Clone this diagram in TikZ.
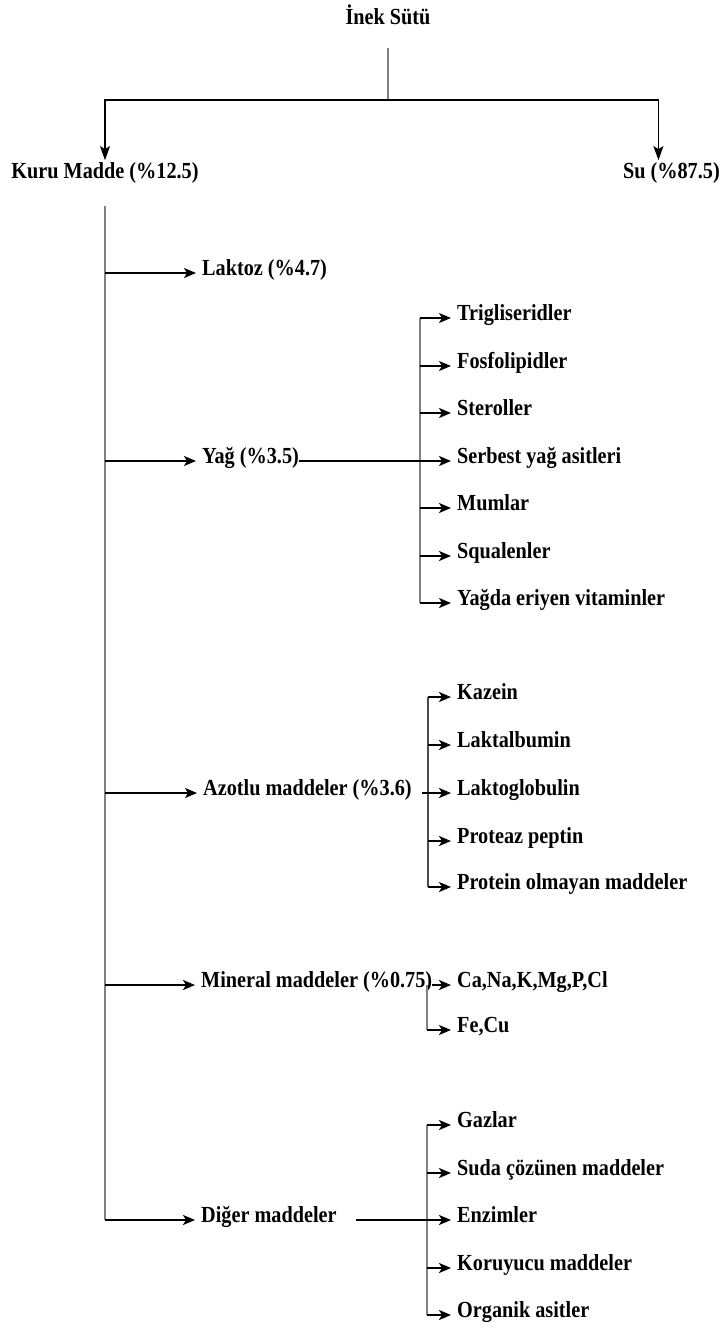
\documentclass[tikz,border=0pt]{standalone}
\usepackage{fontspec}
\setmainfont{Liberation Serif}[FakeStretch=0.88]
\usetikzlibrary{arrows.meta}
\begin{document}
\begin{tikzpicture}[x=1pt,y=-1pt,
  lbl/.style={anchor=west, inner sep=0pt, text height=1.3ex, text depth=0.3ex,
    font=\fontsize{23}{26}\selectfont\bfseries},
  hl/.style={line width=1.6pt, black},
  vl/.style={line width=2pt, black!50},
  arr/.style={hl, -{Stealth[length=12pt,width=10pt,inset=3pt]}, shorten >=6pt},
  darr/.style={hl, -{Stealth[length=14pt,width=10pt,inset=3pt]}, shorten >=12pt},
]
\useasboundingbox (0,0) rectangle (721,1333);

% top level
\node[lbl, anchor=center] (inek) at (388,22) {İnek Sütü};
\node[lbl, anchor=center] (kuru) at (105,176) {Kuru Madde (\%12.5)};
\node[lbl, anchor=east] (su) at (720,176) {Su (\%87.5)};
\coordinate (hs) at (388,100);

% level 2
\node[lbl] (laktoz) at (202,273) {Laktoz (\%4.7)};
\node[lbl] (yag) at (202,461) {Yağ (\%3.5)};
\node[lbl] (azot) at (203,793) {Azotlu maddeler (\%3.6)};
\node[lbl] (min) at (201,985) {Mineral maddeler (\%0.75)};
\node[lbl] (diger) at (201,1220) {Diğer maddeler};

% sub-branch columns
\coordinate (yv) at (420,0);
\coordinate (av) at (428,0);
\coordinate (mv) at (427,0);
\coordinate (dv) at (427,0);

% fat
\node[lbl] (trig) at (457,318) {Trigliseridler};
\node[lbl] (fosf) at (457,366) {Fosfolipidler};
\node[lbl] (ster) at (457,413) {Steroller};
\node[lbl] (serb) at (457,461) {Serbest yağ asitleri};
\node[lbl] (mum) at (457,508) {Mumlar};
\node[lbl] (squa) at (457,556) {Squalenler};
\node[lbl] (yagda) at (457,603) {Yağda eriyen vitaminler};

% nitrogen
\node[lbl] (kaz) at (457,697) {Kazein};
\node[lbl] (lalb) at (457,745) {Laktalbumin};
\node[lbl] (lglob) at (457,793) {Laktoglobulin};
\node[lbl] (prot) at (457,841) {Proteaz peptin};
\node[lbl] (pom) at (457,887) {Protein olmayan maddeler};

% minerals
\node[lbl] (ca) at (457,985) {Ca,Na,K,Mg,P,Cl};
\node[lbl] (fe) at (457,1030) {Fe,Cu};

% other
\node[lbl] (gaz) at (457,1125) {Gazlar};
\node[lbl] (suda) at (457,1173) {Suda çözünen maddeler};
\node[lbl] (enz) at (457,1220) {Enzimler};
\node[lbl] (kor) at (457,1268) {Koruyucu maddeler};
\node[lbl] (org) at (457,1315) {Organik asitler};

% connectors top
\draw[vl, line width=1.3pt, shorten <=22pt] (inek.south) -- (hs);
\draw[darr] (hs) -| (kuru.north);
\draw[darr] (hs) -| ([xshift=-13pt]su.north);

% main trunk
\draw[vl, shorten <=26pt] (kuru.south) -- (kuru.south |- diger.west);
\foreach \n in {laktoz,yag,azot,min,diger}
  \draw[arr] (\n.west -| kuru.south) -- (\n.west);

% fat group
\draw[vl] (trig.west -| yv) -- (yagda.west -| yv);
\foreach \n in {trig,fosf,ster,mum,squa,yagda}
  \draw[arr] (\n.west -| yv) -- (\n.west);
\draw[arr] (yag.east) -- (serb.west);

% nitrogen group
\draw[vl, black!70] (kaz.west -| av) -- (pom.west -| av);
\foreach \n in {kaz,lalb,prot,pom}
  \draw[arr] (\n.west -| av) -- (\n.west);
\draw[arr, shorten <=10pt] (azot.east) -- (lglob.west);

% mineral group
\draw[vl] (ca.west -| mv) -- (fe.west -| mv);
\draw[arr] (fe.west -| mv) -- (fe.west);
\draw[arr] (min.east) -- (ca.west);

% other group
\draw[vl] (gaz.west -| dv) -- (org.west -| dv);
\foreach \n in {gaz,suda,kor,org}
  \draw[arr] (\n.west -| dv) -- (\n.west);
\draw[arr, shorten <=19pt] (diger.east) -- (enz.west);
\end{tikzpicture}
\end{document}
